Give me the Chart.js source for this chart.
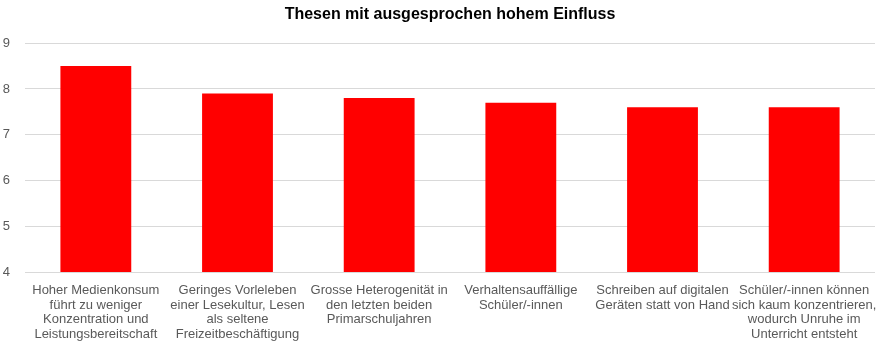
<!DOCTYPE html>
<html><head><meta charset="utf-8">
<script src="https://cdn.jsdelivr.net/npm/chart.js@4/dist/chart.umd.min.js"></script>
<style>html,body{margin:0;padding:0;background:#fff}#w{width:881px;height:342px}</style>
</head><body><div id="w"><canvas id="c"></canvas></div>
<script>
const categories = [
  ["Hoher Medienkonsum","führt zu weniger","Konzentration und","Leistungsbereitschaft"],
  ["Geringes Vorleleben","einer Lesekultur, Lesen","als seltene","Freizeitbeschäftigung"],
  ["Grosse Heterogenität in","den letzten beiden","Primarschuljahren"],
  ["Verhaltensauffällige","Schüler/-innen"],
  ["Schreiben auf digitalen","Geräten statt von Hand"],
  ["Schüler/-innen können","sich kaum konzentrieren,","wodurch Unruhe im","Unterricht entsteht"]
];
const values = [8.5, 7.9, 7.8, 7.7, 7.6, 7.6];
const yTicks = [4, 5, 6, 7, 8, 9];
const title = "Thesen mit ausgesprochen hohem Einfluss";

new Chart(document.getElementById('c'), {
  type: 'bar',
  data: { labels: categories, datasets: [{ data: values, backgroundColor: '#ff0000', categoryPercentage: 1, barPercentage: 0.5 }] },
  options: {
    responsive: true, maintainAspectRatio: false, animation: false,
    layout: { padding: { left: 0, right: 6, top: 0, bottom: 0 } },
    plugins: {
      legend: { display: false }, tooltip: { enabled: false },
      title: { display: true, fullSize: false, text: title, color: '#000', font: { family: 'Liberation Sans', size: 16, weight: 'bold' }, padding: { top: 5, bottom: 19 } }
    },
    scales: {
      x: {
        grid: { display: false, drawTicks: false }, border: { display: false },
        ticks: { color: '#595959', font: { family: 'Liberation Sans', size: 13, lineHeight: 1.13 }, maxRotation: 0, autoSkip: false, padding: 11 },
        afterFit: s => { s.height = 70; s.paddingLeft = 0; s.paddingRight = 0; }
      },
      y: {
        min: 4, max: 9,
        grid: { color: '#d9d9d9', drawTicks: false }, border: { display: false },
        ticks: { color: '#595959', font: { family: 'Liberation Sans', size: 13 }, padding: 15, stepSize: 1 },
        afterBuildTicks: s => { s.ticks = yTicks.map(v => ({ value: v })); },
        afterFit: s => { s.width = 25; s.paddingTop = 0; s.paddingBottom = 0; }
      }
    }
  }
});
</script></body></html>
